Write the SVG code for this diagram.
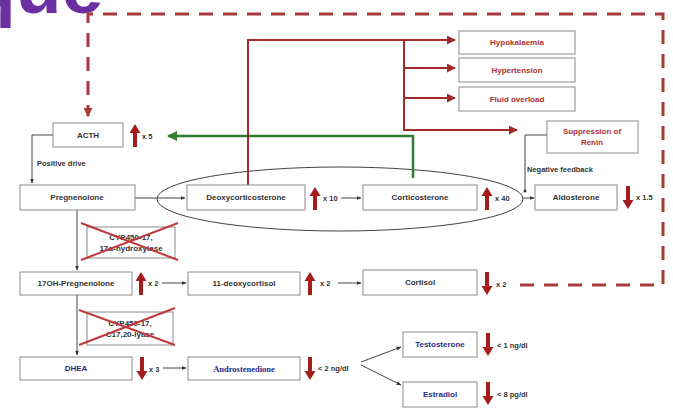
<svg xmlns="http://www.w3.org/2000/svg" width="673" height="408" viewBox="0 0 673 408">
<style>
.box{fill:#fff;stroke:#8a8a8a;stroke-width:1}
.t{font-family:"Liberation Sans",Arial,sans-serif;font-weight:bold;font-size:8px;fill:#333;text-anchor:middle}
.r{fill:#b03030}
.b{fill:#2a2a8a}
.lbl{font-family:"Liberation Sans",Arial,sans-serif;font-weight:bold;font-size:7.5px;fill:#333}
.thin{fill:none;stroke:#444;stroke-width:1}
.red{fill:none;stroke:#a32a2a;stroke-width:2}
.fat{fill:#a51c1c}
</style>
<defs>
<marker id="ah" viewBox="0 0 10 10" refX="9" refY="5" markerWidth="5" markerHeight="5" orient="auto"><path d="M0,1 L10,5 L0,9 Z" fill="#333"/></marker>
<marker id="ahr" viewBox="0 0 10 10" refX="9" refY="5" markerWidth="4.5" markerHeight="4.5" orient="auto"><path d="M0,0 L10,5 L0,10 Z" fill="#a32a2a"/></marker>
<marker id="ahd" viewBox="0 0 10 10" refX="9" refY="5" markerWidth="3" markerHeight="3" orient="auto"><path d="M0,0 L10,5 L0,10 Z" fill="#a8383a"/></marker>
<marker id="ahg" viewBox="0 0 10 10" refX="9" refY="5" markerWidth="4" markerHeight="4" orient="auto"><path d="M0,0 L10,5 L0,10 Z" fill="#2e7d32"/></marker>
<path id="up" d="M0,0 L5.5,9 L2,9 L2,23 L-2,23 L-2,9 L-5.5,9 Z"/>
<path id="dn" d="M0,23 L5.5,14 L2,14 L2,0 L-2,0 L-2,14 L-5.5,14 Z"/>
</defs>

<text x="-30" y="13" font-family="'Liberation Sans',Arial,sans-serif" font-weight="bold" font-size="75" fill="#6b2fa0">que</text>

<g id="connectors">
<ellipse cx="340" cy="199" rx="183" ry="32" fill="none" stroke="#444" stroke-width="1"/>
<path d="M520,285 H663 V14 H88 V116" fill="none" stroke="#a8383a" stroke-width="3" stroke-dasharray="14,10" marker-end="url(#ahd)"/>
<path d="M413,178 V136 H168" fill="none" stroke="#2e7d32" stroke-width="2.5" marker-end="url(#ahg)"/>
<path class="red" d="M248,185 V40 H455" marker-end="url(#ahr)"/>
<path class="red" d="M404,40 V130 H517" marker-end="url(#ahr)"/>
<path class="red" d="M404,68 H455" marker-end="url(#ahr)"/>
<path class="red" d="M404,98 H455" marker-end="url(#ahr)"/>
<path class="thin" d="M53,135 H32 V183" marker-end="url(#ah)"/>
<path class="thin" d="M135,198 H185" marker-end="url(#ah)"/>
<path class="thin" d="M341,198 H361" marker-end="url(#ah)"/>
<path class="thin" d="M547,135 H525 V190"/>
<circle cx="525" cy="191" r="1.5" fill="#333"/>
<path class="thin" d="M523,198 H534" marker-end="url(#ah)"/>
<path class="thin" d="M77,210 V270" marker-end="url(#ah)"/>
<path class="thin" d="M162,283 H186" marker-end="url(#ah)"/>
<path class="thin" d="M338,283 H361" marker-end="url(#ah)"/>
<path class="thin" d="M77,295 V355" marker-end="url(#ah)"/>
<path class="thin" d="M163,368 H186" marker-end="url(#ah)"/>
<path class="thin" d="M361,362 L401,347" marker-end="url(#ah)"/>
<path class="thin" d="M361,365 L401,385" marker-end="url(#ah)"/>
</g>

<g id="acth"><rect class="box" x="53" y="123" width="70" height="24"/><text class="t" x="88" y="138">ACTH</text>
<use href="#up" x="135" y="124" class="fat"/><text class="lbl" x="142" y="139">x 5</text></g>
<text class="lbl" x="37" y="166">Positive drive</text>

<g id="hypokalaemia"><rect class="box" x="459" y="31" width="116" height="23"/><text class="t r" x="517" y="45">Hypokalaemia</text></g>
<g id="hypertension"><rect class="box" x="459" y="58" width="116" height="24"/><text class="t r" x="517" y="73">Hypertension</text></g>
<g id="fluid"><rect class="box" x="459" y="87" width="116" height="24"/><text class="t r" x="517" y="102">Fluid overload</text></g>
<g id="renin"><rect class="box" x="547" y="121" width="91" height="32"/><text class="t r" x="592" y="134">Suppression of</text><text class="t r" x="592" y="145">Renin</text></g>
<text class="lbl" x="527" y="172">Negative feedback</text>

<g id="pregnenolone"><rect class="box" x="20" y="185" width="115" height="25"/><text class="t" x="77" y="200">Pregnenolone</text></g>
<g id="deoxycorticosterone"><rect class="box" x="187" y="185" width="118" height="25"/><text class="t" x="246" y="200">Deoxycorticosterone</text>
<use href="#up" x="315" y="187" class="fat"/><text class="lbl" x="323" y="201">x 10</text></g>
<g id="corticosterone"><rect class="box" x="363" y="185" width="114" height="25"/><text class="t" x="420" y="200">Corticosterone</text>
<use href="#up" x="487" y="187" class="fat"/><text class="lbl" x="495" y="201">x 40</text></g>
<g id="aldosterone"><rect class="box" x="535" y="185" width="82" height="25"/><text class="t" x="576" y="200">Aldosterone</text>
<use href="#dn" x="628" y="186" class="fat"/><text class="lbl" x="636" y="200">x 1.5</text></g>

<g id="cyp17a"><rect class="box" x="87" y="227" width="88" height="31"/><text class="t" x="131" y="240">CYP450-17,</text><text class="t" x="131" y="251">17α-hydroxylase</text>
<path d="M81,223 L178,260 M81,260 L178,223" stroke="#c0393b" stroke-width="2" fill="none"/></g>

<g id="ohpreg"><rect class="box" x="20" y="272" width="112" height="23"/><text class="t" x="76" y="286">17OH-Pregnenolone</text>
<use href="#up" x="141" y="272" class="fat"/><text class="lbl" x="148" y="286">x 2</text></g>
<g id="deoxycortisol"><rect class="box" x="188" y="272" width="112" height="23"/><text class="t" x="244" y="286">11-deoxycortisol</text>
<use href="#up" x="310" y="272" class="fat"/><text class="lbl" x="320" y="286">x 2</text></g>
<g id="cortisol"><rect class="box" x="363" y="270" width="114" height="25"/><text class="t" x="420" y="285">Cortisol</text>
<use href="#dn" x="487" y="272" class="fat"/><text class="lbl" x="496" y="287">x 2</text></g>

<g id="cyp17b"><rect class="box" x="87" y="312" width="86" height="33"/><text class="t" x="130" y="326">CYP450-17,</text><text class="t" x="130" y="337">C17,20-lyase</text>
<path d="M79,345 L175,308 M79,310 L175,345" stroke="#c0393b" stroke-width="2" fill="none"/></g>

<g id="dhea"><rect class="box" x="20" y="357" width="112" height="23"/><text class="t b" x="76" y="371">DHEA</text>
<use href="#dn" x="142" y="357" class="fat"/><text class="lbl" x="149" y="372">x 3</text></g>
<g id="androstenedione"><rect class="box" x="188" y="357" width="112" height="23"/><text x="244" y="372" font-family="'Liberation Serif','Times New Roman',serif" font-weight="bold" font-size="8.5" fill="#2a2a8a" text-anchor="middle">Androstenedione</text>
<use href="#dn" x="310" y="357" class="fat"/><text class="lbl" x="318" y="371">&lt; 2 ng/dl</text></g>
<g id="testosterone"><rect class="box" x="403" y="332" width="74" height="25"/><text class="t b" x="440" y="347">Testosterone</text>
<use href="#dn" x="488" y="333" class="fat"/><text class="lbl" x="497" y="348">&lt; 1 ng/dl</text></g>
<g id="estradiol"><rect class="box" x="403" y="382" width="74" height="25"/><text class="t b" x="440" y="397">Estradiol</text>
<use href="#dn" x="488" y="382" class="fat"/><text class="lbl" x="497" y="397">&lt; 8 pg/dl</text></g>
</svg>
